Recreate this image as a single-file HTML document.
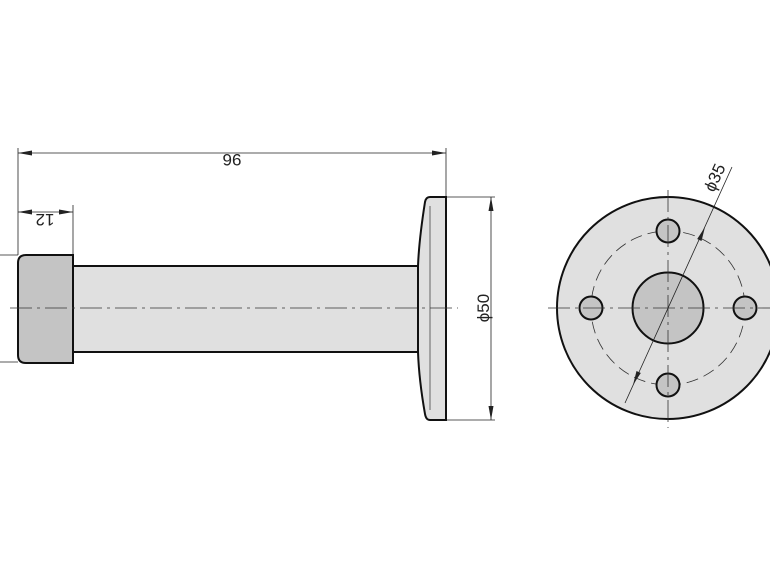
<!DOCTYPE html>
<html><head><style>body{margin:0;background:#fff}svg{display:block}</style></head><body>
<svg width="770" height="578" viewBox="0 0 770 578" xmlns="http://www.w3.org/2000/svg" font-family="Liberation Sans, sans-serif">
<rect width="770" height="578" fill="#fff"/>
<g stroke="#222" stroke-width="0.8" fill="none">
<line x1="18" y1="148" x2="18" y2="255"/>
<line x1="446" y1="148" x2="446" y2="197"/>
<line x1="73" y1="205" x2="73" y2="255"/>
<line x1="0" y1="255" x2="18" y2="255"/>
<line x1="0" y1="362" x2="18" y2="362"/>
<line x1="18" y1="153" x2="446" y2="153"/>
<line x1="18" y1="212" x2="73" y2="212"/>
<line x1="446" y1="197" x2="495" y2="197"/>
<line x1="446" y1="420" x2="495" y2="420"/>
<line x1="491" y1="197" x2="491" y2="420"/>
</g>
<g fill="#222">
<polygon points="18,153 32,150.5 32,155.5"/>
<polygon points="446,153 432,150.5 432,155.5"/>
<polygon points="18,212 32,209.5 32,214.5"/>
<polygon points="73,212 59,209.5 59,214.5"/>
<polygon points="491,197 488.5,211 493.5,211"/>
<polygon points="491,420 488.5,406 493.5,406"/>
</g>
<text x="232" y="159" font-size="17" fill="#222" text-anchor="middle" transform="rotate(180 232 159)" dy="5">96</text>
<text x="45" y="219" font-size="17" fill="#222" text-anchor="middle" transform="rotate(180 45 219)" dy="5">12</text>
<text x="483" y="308" font-size="17" fill="#222" text-anchor="middle" transform="rotate(-90 483 308)" dy="6">ϕ50</text>
<rect x="73" y="266" width="346" height="86" fill="#e0e0e0" stroke="#111" stroke-width="2"/>
<path d="M18,263 Q18,255 26,255 L73,255 L73,363 L26,363 Q18,363 18,355 Z" fill="#c4c4c4" stroke="#111" stroke-width="2"/>
<path d="M446,197 L430,197 Q426,197 425,202 Q419,240 418,266 L418,352 Q419,380 425,414 Q426,420 430,420 L446,420 Z" fill="#e0e0e0" stroke="#111" stroke-width="2"/>
<line x1="430" y1="206" x2="430" y2="410" stroke="#444" stroke-width="0.8"/>
<line x1="10" y1="308" x2="458" y2="308" stroke="#333" stroke-width="0.8" stroke-dasharray="22,5,3,5"/>
<circle cx="668" cy="308" r="111" fill="#e0e0e0" stroke="#111" stroke-width="2"/>
<circle cx="668" cy="308" r="77" fill="none" stroke="#333" stroke-width="0.8" stroke-dasharray="12,6"/>
<circle cx="668" cy="308" r="35.5" fill="#c4c4c4" stroke="#111" stroke-width="2"/>
<g fill="#c4c4c4" stroke="#111" stroke-width="2">
<circle cx="668" cy="231" r="11.5"/><circle cx="668" cy="385" r="11.5"/>
<circle cx="591" cy="308" r="11.5"/><circle cx="745" cy="308" r="11.5"/>
</g>
<g stroke="#333" stroke-width="0.8" stroke-dasharray="22,5,3,5">
<line x1="548" y1="308" x2="770" y2="308"/>
<line x1="668" y1="190" x2="668" y2="428"/>
</g>
<line x1="625" y1="403" x2="732" y2="167" stroke="#222" stroke-width="0.8"/>
<g fill="#222">
<polygon points="633,385 636.5,371 640.8,373"/>
<polygon points="705,227 701.5,241 697.2,239"/>
</g>
<text x="720" y="180" font-size="17" fill="#222" text-anchor="middle" transform="rotate(-65.6 720 180)">ϕ35</text>
</svg>
</body></html>
